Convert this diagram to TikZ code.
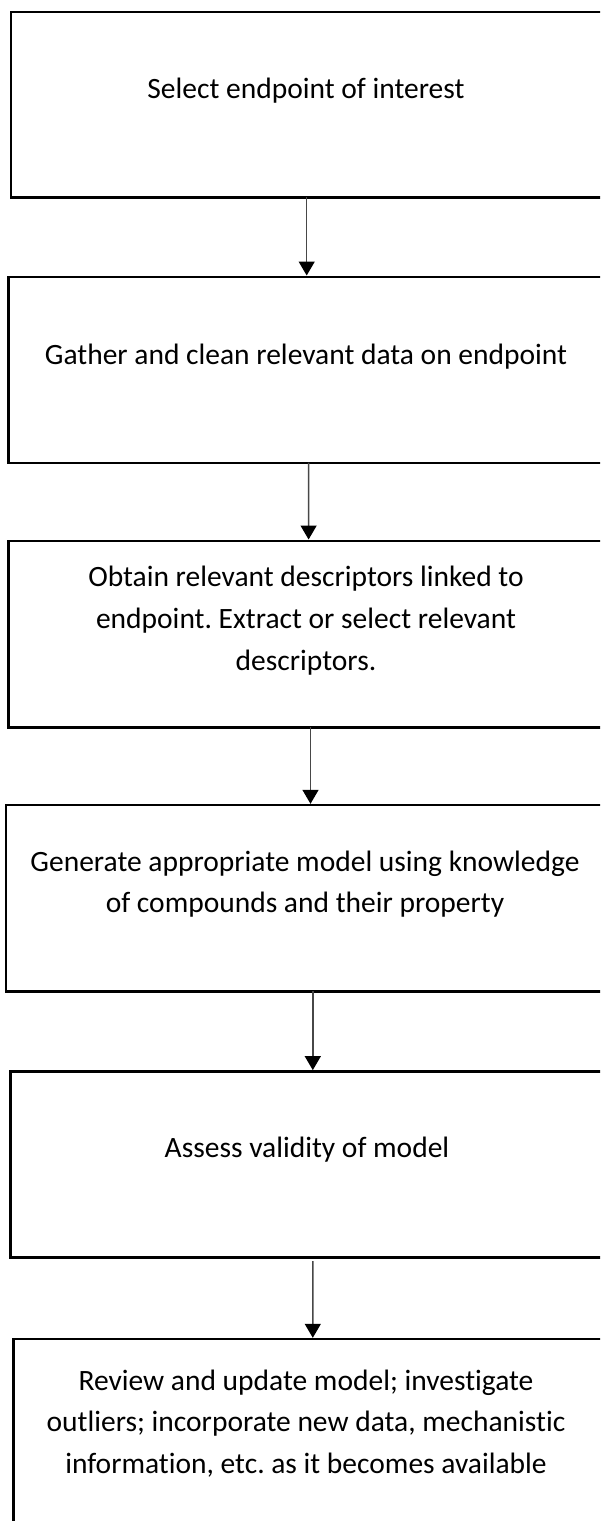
\documentclass[tikz,border=0pt]{standalone}
\usepackage{fontspec}
\setmainfont{Carlito}[Ligatures={NoCommon}]
\frenchspacing
\usetikzlibrary{arrows.meta}
\begin{document}
\begin{tikzpicture}[x=1pt,y=-1pt,
  stepbox/.style={draw=black,line width=2.4pt,inner sep=0pt,outer sep=0pt,anchor=north west},
  steptext/.style={anchor=base,inner sep=0pt,align=center,font=\fontsize{29.5}{41.6}\selectfont},
  flow/.style={draw=black!72,line width=1.4pt,shorten >=1.2pt,-{Triangle[width=16pt,length=14pt,black]}}]
\clip (0,0) rectangle (600,1521);
\fill[white] (0,0) rectangle (600,1521);

% process boxes (right edges run past the page edge)
\node[stepbox,minimum width=593.3pt,minimum height=185.6pt] (b1) at (10.7,11.7) {};
\node[stepbox,minimum width=595.7pt,minimum height=186pt]   (b2) at (8.3,276.7) {};
\node[stepbox,minimum width=595.6pt,minimum height=186.6pt] (b3) at (8.4,540.7) {};
\node[stepbox,minimum width=597.9pt,minimum height=186.3pt] (b4) at (6.1,805) {};
\node[stepbox,minimum width=593.7pt,minimum height=186pt]   (b5) at (10.3,1071.3) {};
\node[stepbox,minimum width=590.6pt,minimum height=200pt]   (b6) at (13.4,1339) {};

% step texts (anchored on the baseline of the last line)
\node[steptext] (t1) at (306,98.3) {Select endpoint of interest};
\node[steptext] (t2) at (306,364) {Gather and clean relevant data on endpoint};
\node[steptext] (t3) at (306,670) {Obtain relevant descriptors linked to\\endpoint. Extract or select relevant\\descriptors.};
\node[steptext] (t4) at (305,912.7) {Generate appropriate model using knowledge\\of compounds and their property};
\node[steptext] (t5) at (307,1157.7) {Assess validity of model};
\node[steptext] (t6) at (306,1473.3) {Review and update model; investigate\\outliers; incorporate new data, mechanistic\\information, etc. as it becomes available};

% connectors
\draw[flow] ([xshift=296pt]b1.south west) -- ([xshift=298.4pt]b2.north west);
\draw[flow] ([xshift=300.3pt]b2.south west) -- ([xshift=300.2pt]b3.north west);
\draw[flow] ([xshift=302.1pt]b3.south west) -- ([xshift=304.4pt]b4.north west);
\draw[flow] ([xshift=306.7pt]b4.south west) -- ([xshift=302.5pt]b5.north west);
\draw[flow,shorten <=3.7pt] ([xshift=302.5pt]b5.south west) -- ([xshift=299.4pt]b6.north west);
\end{tikzpicture}
\end{document}
